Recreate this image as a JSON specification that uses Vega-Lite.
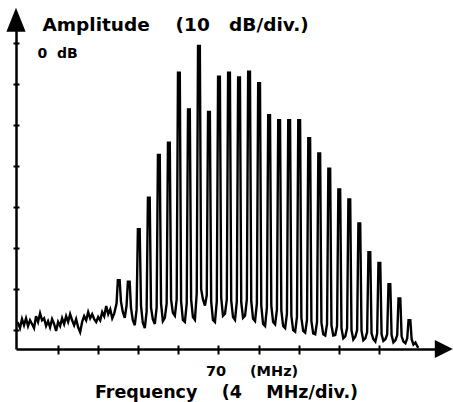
{
  "$schema": "https://vega.github.io/schema/vega-lite/v6.json",
  "width": 420,
  "height": 319,
  "autosize": {"type": "none"},
  "padding": {"left": 16, "top": 30, "right": 17, "bottom": 53},
  "background": "white",
  "config": {"view": {"stroke": null}, "font": "DejaVu Sans"},
  "data": {"values": [
    {"f":49.9,"a":-68.0},{"f":50.0,"a":-68.3},{"f":50.2,"a":-69.5},{"f":50.4,"a":-67.3},{"f":50.6,"a":-68.8},{"f":50.8,"a":-67.1},{"f":51.0,"a":-69.0},{"f":51.2,"a":-67.6},{"f":51.4,"a":-68.5},{"f":51.6,"a":-69.5},{"f":51.8,"a":-66.6},{"f":52.0,"a":-68.0},{"f":52.2,"a":-65.9},{"f":52.4,"a":-67.6},{"f":52.6,"a":-67.1},{"f":52.8,"a":-69.0},{"f":53.0,"a":-67.8},{"f":53.2,"a":-69.3},{"f":53.4,"a":-67.3},{"f":53.6,"a":-68.5},{"f":53.8,"a":-70.2},{"f":54.0,"a":-68.0},{"f":54.2,"a":-69.0},{"f":54.4,"a":-67.1},{"f":54.6,"a":-68.5},{"f":54.8,"a":-66.6},{"f":55.0,"a":-68.0},{"f":55.2,"a":-66.1},{"f":55.4,"a":-67.6},{"f":55.6,"a":-68.8},{"f":55.8,"a":-67.3},{"f":56.0,"a":-69.3},{"f":56.2,"a":-70.5},{"f":56.4,"a":-68.0},{"f":56.6,"a":-66.6},{"f":56.8,"a":-67.6},{"f":57.0,"a":-65.6},{"f":57.2,"a":-67.1},{"f":57.4,"a":-66.1},{"f":57.6,"a":-67.3},{"f":57.8,"a":-68.0},{"f":58.0,"a":-66.8},{"f":58.2,"a":-67.6},{"f":58.4,"a":-65.6},{"f":58.6,"a":-66.6},{"f":58.8,"a":-64.1},{"f":59.0,"a":-66.1},{"f":59.2,"a":-64.9},{"f":59.4,"a":-67.1},{"f":59.6,"a":-65.9},
    {"f":59.83,"a":-63.5},{"f":59.96,"a":-57.8},{"f":60.14,"a":-57.8},{"f":60.27,"a":-63.0},{"f":60.45,"a":-65.5},{"f":60.65,"a":-67.0},
    {"f":60.83,"a":-64.0},{"f":60.96,"a":-58.2},{"f":61.14,"a":-58.2},{"f":61.27,"a":-64.5},{"f":61.45,"a":-67.5},{"f":61.65,"a":-68.8},
    {"f":61.83,"a":-65.0},{"f":61.96,"a":-45.4},{"f":62.14,"a":-45.4},{"f":62.27,"a":-64.0},{"f":62.45,"a":-68.2},{"f":62.65,"a":-69.5},
    {"f":62.83,"a":-65.5},{"f":62.96,"a":-37.7},{"f":63.14,"a":-37.7},{"f":63.27,"a":-64.5},{"f":63.45,"a":-67.3},{"f":63.65,"a":-68.5},
    {"f":63.83,"a":-64.5},{"f":63.96,"a":-27.3},{"f":64.14,"a":-27.3},{"f":64.27,"a":-63.5},{"f":64.45,"a":-67.8},{"f":64.65,"a":-67.0},
    {"f":64.83,"a":-63.5},{"f":64.96,"a":-24.3},{"f":65.14,"a":-24.3},{"f":65.27,"a":-62.5},{"f":65.45,"a":-65.8},{"f":65.65,"a":-66.5},
    {"f":65.83,"a":-62.5},{"f":65.96,"a":-7.2},{"f":66.14,"a":-7.2},{"f":66.27,"a":-63.0},{"f":66.45,"a":-67.5},{"f":66.65,"a":-68.0},
    {"f":66.83,"a":-63.5},{"f":66.96,"a":-16.2},{"f":67.14,"a":-16.2},{"f":67.27,"a":-62.5},{"f":67.45,"a":-66.8},{"f":67.65,"a":-67.5},
    {"f":67.83,"a":-61.0},{"f":67.96,"a":-0.7},{"f":68.14,"a":-0.7},{"f":68.27,"a":-60.0},{"f":68.45,"a":-62.5},{"f":68.65,"a":-64.0},
    {"f":68.83,"a":-61.5},{"f":68.96,"a":-16.8},{"f":69.14,"a":-16.8},{"f":69.27,"a":-63.0},{"f":69.45,"a":-67.5},{"f":69.65,"a":-68.0},
    {"f":69.83,"a":-63.0},{"f":69.96,"a":-8.2},{"f":70.14,"a":-8.2},{"f":70.27,"a":-62.0},{"f":70.45,"a":-66.5},{"f":70.65,"a":-66.0},
    {"f":70.83,"a":-62.5},{"f":70.96,"a":-7.2},{"f":71.14,"a":-7.2},{"f":71.27,"a":-62.8},{"f":71.45,"a":-66.8},{"f":71.65,"a":-67.5},
    {"f":71.83,"a":-63.0},{"f":71.96,"a":-8.4},{"f":72.14,"a":-8.4},{"f":72.27,"a":-63.2},{"f":72.45,"a":-67.0},{"f":72.65,"a":-66.5},
    {"f":72.83,"a":-62.5},{"f":72.96,"a":-7.0},{"f":73.14,"a":-7.0},{"f":73.27,"a":-63.0},{"f":73.45,"a":-67.2},{"f":73.65,"a":-67.8},
    {"f":73.83,"a":-63.5},{"f":73.96,"a":-9.8},{"f":74.14,"a":-9.8},{"f":74.27,"a":-64.0},{"f":74.45,"a":-68.5},{"f":74.65,"a":-69.0},
    {"f":74.83,"a":-64.5},{"f":74.96,"a":-17.6},{"f":75.14,"a":-17.6},{"f":75.27,"a":-64.0},{"f":75.45,"a":-68.0},{"f":75.65,"a":-68.6},
    {"f":75.83,"a":-65.0},{"f":75.96,"a":-18.8},{"f":76.14,"a":-18.8},{"f":76.27,"a":-65.2},{"f":76.45,"a":-69.0},{"f":76.65,"a":-69.5},
    {"f":76.83,"a":-66.0},{"f":76.96,"a":-18.8},{"f":77.14,"a":-18.8},{"f":77.27,"a":-66.5},{"f":77.45,"a":-70.0},{"f":77.65,"a":-70.4},
    {"f":77.83,"a":-66.8},{"f":77.96,"a":-18.8},{"f":78.14,"a":-18.8},{"f":78.27,"a":-67.0},{"f":78.45,"a":-70.2},{"f":78.65,"a":-70.6},
    {"f":78.83,"a":-67.5},{"f":78.96,"a":-23.2},{"f":79.14,"a":-23.2},{"f":79.27,"a":-67.8},{"f":79.45,"a":-70.8},{"f":79.65,"a":-71.0},
    {"f":79.83,"a":-68.0},{"f":79.96,"a":-26.9},{"f":80.14,"a":-26.9},{"f":80.27,"a":-68.2},{"f":80.45,"a":-71.0},{"f":80.65,"a":-71.3},
    {"f":80.83,"a":-68.5},{"f":80.96,"a":-30.6},{"f":81.14,"a":-30.6},{"f":81.27,"a":-68.8},{"f":81.45,"a":-71.3},{"f":81.65,"a":-71.2},
    {"f":81.83,"a":-69.0},{"f":81.96,"a":-35.7},{"f":82.14,"a":-35.7},{"f":82.27,"a":-69.5},{"f":82.45,"a":-72.0},{"f":82.65,"a":-71.5},
    {"f":82.83,"a":-69.5},{"f":82.96,"a":-38.1},{"f":83.14,"a":-38.1},{"f":83.27,"a":-70.0},{"f":83.45,"a":-72.3},{"f":83.65,"a":-71.6},
    {"f":83.83,"a":-70.0},{"f":83.96,"a":-44.0},{"f":84.14,"a":-44.0},{"f":84.27,"a":-70.2},{"f":84.45,"a":-72.5},{"f":84.65,"a":-72.0},
    {"f":84.83,"a":-70.5},{"f":84.96,"a":-51.0},{"f":85.14,"a":-51.0},{"f":85.27,"a":-70.8},{"f":85.45,"a":-72.2},{"f":85.65,"a":-72.8},
    {"f":85.83,"a":-70.8},{"f":85.96,"a":-53.6},{"f":86.14,"a":-53.6},{"f":86.27,"a":-71.0},{"f":86.45,"a":-72.6},{"f":86.65,"a":-72.2},
    {"f":86.83,"a":-71.0},{"f":86.96,"a":-58.8},{"f":87.14,"a":-58.8},{"f":87.27,"a":-71.2},{"f":87.45,"a":-73.0},{"f":87.65,"a":-72.5},
    {"f":87.83,"a":-71.2},{"f":87.96,"a":-62.3},{"f":88.14,"a":-62.3},{"f":88.27,"a":-71.5},{"f":88.45,"a":-72.8},{"f":88.65,"a":-73.2},
    {"f":88.83,"a":-72.0},{"f":88.96,"a":-67.6},{"f":89.14,"a":-67.6},{"f":89.27,"a":-72.2},{"f":89.45,"a":-73.5},{"f":89.65,"a":-73.0},{"f":89.85,"a":-74.0},{"f":89.95,"a":-74.3}
  ]},
  "layer": [
    {
      "mark": {"type": "line", "color": "black", "strokeWidth": 2.4, "strokeJoin": "miter"},
      "encoding": {
        "x": {"field": "f", "type": "quantitative",
          "scale": {"domain": [49.8, 91.7], "nice": false, "zero": false},
          "axis": {"orient": "bottom", "values": [54, 58, 62, 66, 70, 74, 78, 82, 86], "grid": false,
            "domainColor": "black", "domainWidth": 2.5, "tickColor": "black", "tickWidth": 2, "tickSize": 5,
            "labelExpr": "datum.value == 70 ? '70' : datum.value == 74 ? '(MHz)' : ''",
            "labelOffset": {"condition": {"test": "datum.value == 74", "value": 15}, "value": -3},
            "labelBaseline": "alphabetic", "labelPadding": 21, "labelOverlap": false, "labelFlush": false,
            "labelFont": "DejaVu Sans", "labelFontWeight": "bold", "labelFontSize": 14.5, "labelColor": "black",
            "title": "Frequency\u00a0\u00a0\u00a0\u00a0(4\u00a0\u00a0\u00a0\u00a0MHz/div.)",
            "titleX": 210, "titleY": 48, "titleAlign": "center", "titleBaseline": "alphabetic",
            "titleFont": "DejaVu Sans", "titleFontWeight": "bold", "titleFontSize": 17.5, "titleColor": "black"}},
        "y": {"field": "a", "type": "quantitative",
          "scale": {"domain": [-74.6, 3.2], "nice": false, "zero": false},
          "axis": {"orient": "left", "values": [-70, -60, -50, -40, -30, -20, -10, 0], "grid": false,
            "domainColor": "black", "domainWidth": 2.5, "tickColor": "black", "tickWidth": 2, "tickSize": 3,
            "labelExpr": "datum.value == 0 ? '0\u00a0\u00a0dB' : ''",
            "labelAlign": "left", "labelBaseline": "middle", "labelPadding": -24, "labelOffset": 10, "labelOverlap": false,
            "labelFont": "DejaVu Sans", "labelFontWeight": "bold", "labelFontSize": 14, "labelColor": "black",
            "title": "Amplitude\u00a0\u00a0\u00a0\u00a0(10\u00a0\u00a0\u00a0dB/div.)",
            "titleAngle": 0, "titleAlign": "left", "titleBaseline": "alphabetic", "titleX": 26, "titleY": 0,
            "titleFont": "DejaVu Sans", "titleFontWeight": "bold", "titleFontSize": 18.5, "titleColor": "black"}}
      }
    },
    {
      "data": {"values": [{}]},
      "mark": {"type": "point", "shape": "M0,-1.85L0.8,0.15L-0.8,0.15Z", "size": 576, "filled": true, "color": "black", "opacity": 1, "strokeWidth": 0},
      "encoding": {
        "x": {"datum": 49.8, "type": "quantitative",
          "axis": {"orient": "bottom", "values": [54, 58, 62, 66, 70, 74, 78, 82, 86], "grid": false, "domain": false, "labels": false, "title": null,
            "tickColor": "black", "tickWidth": 2, "tickSize": -4}},
        "y": {"datum": 3.2, "type": "quantitative",
          "axis": {"orient": "left", "values": [-70, -60, -50, -40, -30, -20, -10, 0], "grid": false, "domain": false, "labels": false, "title": null,
            "tickColor": "black", "tickWidth": 2, "tickSize": -3}}
      }
    },
    {
      "data": {"values": [{}]},
      "mark": {"type": "point", "shape": "M1.4,0L-0.1,-0.75L-0.1,0.75Z", "size": 576, "filled": true, "color": "black", "opacity": 1, "strokeWidth": 0},
      "encoding": {
        "x": {"datum": 91.7, "type": "quantitative", "axis": null},
        "y": {"datum": -74.6, "type": "quantitative", "axis": null}
      }
    }
  ],
  "resolve": {"axis": {"x": "independent", "y": "independent"}}
}
